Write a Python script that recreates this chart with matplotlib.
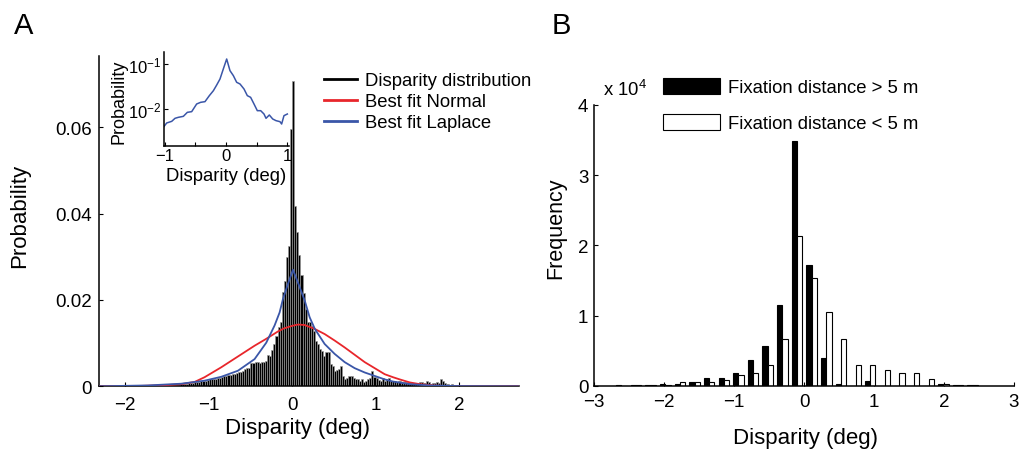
import numpy as np
import matplotlib
matplotlib.use("Agg")
import matplotlib.pyplot as plt
from matplotlib.lines import Line2D
from matplotlib.patches import Patch
from matplotlib.ticker import NullLocator, FixedLocator

plt.rcParams['font.family'] = ['Liberation Sans', 'DejaVu Sans']
plt.rcParams['mathtext.fontset'] = 'custom'
plt.rcParams['mathtext.rm'] = 'Liberation Sans'
plt.rcParams['mathtext.it'] = 'Liberation Sans:italic'
plt.rcParams['mathtext.bf'] = 'Liberation Sans:bold'

# ---------------- data: panel A ----------------
# histogram of disparity, bins of 0.025 deg starting at -1.75
hist_start = -1.75
hist_width = 0.025
hist_prob = [
    .0001, .0001, .0002, .0001, .0002, .0002, .0002, .0003, .0002, .0003,
    .0003, .0003, .0004, .0003, .0004, .0004, .0005, .0005, .0006, .0006,
    .0007, .0008, .0008, .0009, .0010, .0011, .0012, .0012, .0013, .0014,
    .0016, .0017, .0018, .0018, .0019, .0020, .0022, .0024, .0025, .0026,
    .0026, .0028, .0029, .0031, .0032, .0034, .0036, .0040, .0042, .0043,
    .0054, .0055, .0057, .0056, .0055, .0057, .0056, .0058, .0073, .0071,
    .0083, .0098, .0117, .0137, .0150, .0218, .0245, .0300, .0326, .0596,
    .0708, .0418, .0357, .0303, .0257, .0215, .0180, .0150, .0150, .0140,
    .0129, .0106, .0098, .0086, .0082, .0071, .0080, .0079, .0052, .0048,
    .0036, .0038, .0040, .0048, .0025, .0018, .0020, .0025, .0023, .0020,
    .0017, .0018, .0013, .0017, .0011, .0012, .0018, .0020, .0036, .0021,
    .0020, .0014, .0012, .0020, .0012, .0017, .0020, .0013, .0012, .0013,
    .0011, .0012, .0010, .0009, .0010, .0008, .0008, .0007, .0007, .0006,
    .0007, .0011, .0010, .0008, .0013, .0009, .0006, .0008, .0007, .0009,
    .0007, .0016, .0012, .0008, .0005, .0004, .0005, .0003, .0002, .0001,
]

normal_x = [-2.32, -1.8, -1.5, -1.33, -1.17, -1.05, -0.85, -0.65, -0.45, -0.31,
            -0.17, -0.1, 0.0, 0.07, 0.15, 0.27, 0.39, 0.51, 0.63, 0.75,
            0.87, 0.99, 1.11, 1.21, 1.29, 1.41, 1.53, 1.69, 1.9, 2.72]
normal_y = [0.0, 0.0001, 0.0003, 0.0005, 0.0010, 0.0021, 0.0044, 0.0069, 0.0094, 0.0110,
            0.0127, 0.0134, 0.0140, 0.0143, 0.0142, 0.0133, 0.0121, 0.0106, 0.0090, 0.0073,
            0.0056, 0.0042, 0.0028, 0.0021, 0.0016, 0.0009, 0.0005, 0.0002, 0.0, 0.0]

laplace_x = [-2.32, -1.73, -1.33, -1.05, -0.85, -0.65, -0.45, -0.31, -0.21, -0.15,
             -0.11, -0.05, 0.01, 0.08, 0.152, 0.21, 0.272, 0.39, 0.51, 0.63,
             0.75, 0.87, 0.99, 1.11, 1.21, 1.41, 1.65, 2.0, 2.72]
laplace_y = [0.0, 0.0002, 0.0006, 0.0013, 0.0022, 0.0036, 0.0063, 0.0101, 0.0141, 0.0171,
             0.0202, 0.0237, 0.0270, 0.0235, 0.0198, 0.0160, 0.0133, 0.0098, 0.0075, 0.0056,
             0.0042, 0.0032, 0.0024, 0.0016, 0.0011, 0.0005, 0.0002, 0.00005, 0.0]

# inset: log-probability trace
inset_x = [-1.022, -0.968, -0.886, -0.832, -0.778, -0.696, -0.631, -0.560, -0.479, -0.414,
           -0.343, -0.272, -0.206, -0.152, -0.098, -0.044, 0.011, 0.065, 0.120, 0.174,
           0.229, 0.294, 0.348, 0.402, 0.457, 0.511, 0.566, 0.620, 0.653, 0.707,
           0.762, 0.816, 0.881, 0.908, 0.946, 1.001]
inset_y = [0.00392, 0.00489, 0.00532, 0.00621, 0.00653, 0.00687, 0.00843, 0.00873, 0.01292, 0.01407,
           0.01456, 0.01978, 0.0255, 0.0341, 0.0464, 0.0774, 0.129, 0.0711, 0.0551, 0.0392,
           0.0359, 0.0278, 0.0198, 0.01816, 0.01292, 0.00918, 0.00918, 0.00774, 0.00621, 0.00736,
           0.00600, 0.00551, 0.00523, 0.00464, 0.00711, 0.00774]

# ---------------- data: panel B ----------------
bin_centers = [-2.608, -2.399, -2.19, -1.981, -1.772, -1.563, -1.354, -1.145, -0.936, -0.727,
               -0.518, -0.309, -0.10, 0.109, 0.318, 0.527, 0.736, 0.945, 1.154, 1.363,
               1.572, 1.781, 1.99, 2.199, 2.408]
far_counts = [0.01, 0.01, 0.015, 0.02, 0.02, 0.05, 0.11, 0.11, 0.18, 0.37,
              0.565, 1.15, 3.48, 1.72, 0.39, 0.02, 0.0, 0.06, 0.0, 0.0,
              0.0, 0.0, 0.02, 0.01, 0.005]  # x 10^4
near_counts = [0.0, 0.01, 0.01, 0.015, 0.05, 0.05, 0.05, 0.085, 0.157, 0.18,
               0.29, 0.66, 2.13, 1.54, 1.045, 0.66, 0.29, 0.29, 0.23, 0.18,
               0.18, 0.095, 0.02, 0.01, 0.01]  # x 10^4

W, H = 1025, 456
fig = plt.figure(figsize=(W / 100, H / 100), dpi=100)


def px_axes(left, top, right, bottom):
    return fig.add_axes([left / W, 1 - bottom / H, (right - left) / W, (bottom - top) / H])


tick_fs = 13.5
lab_fs = 16

# ================= panel A =================
axA = px_axes(98.6, 57, 519, 387.3)
centers = hist_start + hist_width * (np.arange(len(hist_prob)) + 0.5)
axA.bar(centers, hist_prob, width=hist_width, color='black',
        edgecolor='0.6', linewidth=0.45, zorder=2)
axA.plot(normal_x, normal_y, color='#e8262b', lw=1.3, zorder=3)
axA.plot(laplace_x, laplace_y, color='#3a56a8', lw=1.3, zorder=3)
axA.set_xlim(-2.32, 2.72)
axA.set_ylim(0, 0.0765)
axA.set_xticks([-2, -1, 0, 1, 2])
axA.set_yticks([0, 0.02, 0.04, 0.06])
axA.set_yticklabels(['0', '0.02', '0.04', '0.06'])
for s in ['top', 'right']:
    axA.spines[s].set_visible(False)
for s in ['left', 'bottom']:
    axA.spines[s].set_linewidth(1.1)
axA.tick_params(direction='in', length=3, width=0.8, labelsize=tick_fs)
axA.tick_params(axis='x', pad=7)
axA.tick_params(axis='y', pad=5)
axA.set_xlabel('Disparity (deg)', fontsize=lab_fs)
axA.set_ylabel('Probability', fontsize=lab_fs)
axA.xaxis.set_label_coords(0.474, -0.093)
axA.yaxis.set_label_coords(-0.163, 0.52)

handlesA = [Line2D([], [], color='black', lw=2),
            Line2D([], [], color='#e8262b', lw=2),
            Line2D([], [], color='#3a56a8', lw=2)]
axA.legend(handlesA, ['Disparity distribution', 'Best fit Normal', 'Best fit Laplace'],
           loc='upper left', bbox_to_anchor=(324 / W, 1 - 73 / H),
           bbox_transform=fig.transFigure, frameon=False, borderpad=0,
           borderaxespad=0, handlelength=1.8, handletextpad=0.4,
           labelspacing=0.22, fontsize=13.3)

# inset
axI = px_axes(163.5, 52.7, 288.5, 146.7)
axI.plot(inset_x, inset_y, color='#3a56a8', lw=1.1)
axI.set_yscale('log')
axI.set_xlim(-1.02, 1.02)
axI.set_ylim(0.00153, 0.1875)
axI.yaxis.set_major_locator(FixedLocator([0.01, 0.1]))
axI.yaxis.set_minor_locator(NullLocator())
axI.set_xticks([-1, -0.5, 0, 0.5, 1])
axI.set_xticklabels(['\u22121', '', '0', '', '1'])
for s in ['top', 'right']:
    axI.spines[s].set_visible(False)
for s in ['left', 'bottom']:
    axI.spines[s].set_linewidth(1.1)
axI.tick_params(direction='in', length=3, width=0.8, labelsize=12, pad=2)
axI.tick_params(axis='y', pad=1.5)
axI.set_xlabel('Disparity (deg)', fontsize=13.3)
axI.set_ylabel('Probability', fontsize=13)
axI.xaxis.set_label_coords(0.5, -0.227)
axI.yaxis.set_label_coords(-0.29, 0.479)

# ================= panel B =================
axB = px_axes(594, 106, 1014, 386.7)
bw = 0.075
axB.bar(np.array(bin_centers) - bw / 2, far_counts, width=bw, color='black',
        edgecolor='black', linewidth=0.8, zorder=2)
axB.bar(np.array(bin_centers) + bw / 2, near_counts, width=bw, facecolor='white',
        edgecolor='black', linewidth=0.8, zorder=2)
axB.set_xlim(-3, 3)
axB.set_ylim(0, 4)
axB.set_xticks([-3, -2, -1, 0, 1, 2, 3])
axB.set_yticks([0, 1, 2, 3, 4])
for s in ['top', 'right']:
    axB.spines[s].set_visible(False)
for s in ['left', 'bottom']:
    axB.spines[s].set_linewidth(1.1)
axB.tick_params(direction='in', length=3, width=0.8, labelsize=tick_fs)
axB.tick_params(axis='x', pad=5.5)
axB.tick_params(axis='y', pad=4)
axB.set_xlabel('Disparity (deg)', fontsize=lab_fs)
axB.set_ylabel('Frequency', fontsize=15.5)
axB.xaxis.set_label_coords(0.504, -0.147)
axB.yaxis.set_label_coords(-0.065, 0.566)

handlesB = [Patch(facecolor='black', edgecolor='black', linewidth=0.8),
            Patch(facecolor='white', edgecolor='black', linewidth=0.8)]
axB.legend(handlesB, ['Fixation distance > 5 m', 'Fixation distance < 5 m'],
           loc='upper left', bbox_to_anchor=(663 / W, 1 - 79 / H),
           bbox_transform=fig.transFigure, frameon=False, borderpad=0,
           borderaxespad=0, handlelength=3.08, handleheight=0.97,
           handletextpad=0.43, labelspacing=0.95, fontsize=13.3)

fig.text(603 / W, 1 - 96 / H, 'x 10$^4$', fontsize=13.3, ha='left', va='baseline')

# panel letters
fig.text(14 / W, 1 - 34.3 / H, 'A', fontsize=21, ha='left', va='baseline')
fig.text(552 / W, 1 - 33.5 / H, 'B', fontsize=21, ha='left', va='baseline')

fig.savefig('out.png', dpi=100)
